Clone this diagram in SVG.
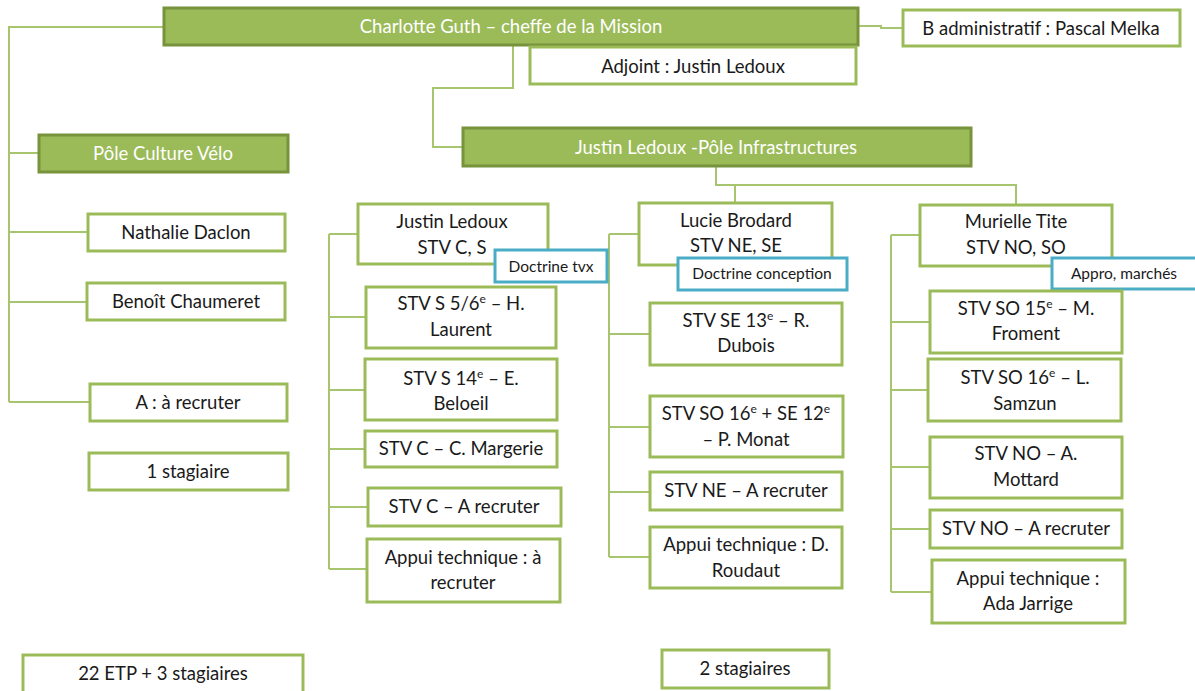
<svg xmlns="http://www.w3.org/2000/svg" width="1195" height="691" viewBox="0 0 1195 691">
<style>
.hd{fill:#9BBB59;stroke:#77933C;stroke-width:3}
.bx{fill:#FFFFFF;stroke:#9BBB59;stroke-width:3}
.bl{fill:#FFFFFF;stroke:#4BACC6;stroke-width:3}
.t{font-family:Lato,"Liberation Sans",sans-serif;font-size:18.5px;fill:#1a1a1a;text-anchor:middle}
.w{fill:#FFFFFF}
.s{font-size:15.5px}
.c{fill:none;stroke:#A7C46F;stroke-width:2}
</style>
<rect width="1195" height="691" fill="#FFFFFF"/>
<g id="connectors" class="c">
<path d="M164,27 H9 V402 M9,153 H39 M9,232 H88 M9,302 H87 M9,402 H90"/>
<path d="M858,26 H881 V28 H903"/>
<path d="M513,45 V88 H433 V147 H463"/>
<path d="M716,166 V185 H1016 V205 M735,185 V203"/>
<path d="M329,234 V569 M329,234 H358 M329,317 H366 M329,390 H365 M329,449 H365 M329,507 H368 M329,569 H367"/>
<path d="M609,234 V557 M609,234 H639 M609,334 H650 M609,427 H650 M609,492 H650 M609,557 H650"/>
<path d="M891,235 V592 M891,235 H920 M891,322 H930 M891,390 H928 M891,467 H930 M891,529 H930 M891,592 H932"/>
</g>
<g id="charlotte"><rect class="hd" x="164" y="8" width="694" height="37"/><text class="t w" x="511" y="33">Charlotte Guth – cheffe de la Mission</text></g>
<g id="badmin"><rect class="bx" x="903" y="10" width="277" height="36"/><text class="t" x="1041" y="35">B administratif : Pascal Melka</text></g>
<g id="adjoint"><rect class="bx" x="530" y="47" width="326" height="37"/><text class="t" x="693" y="73">Adjoint : Justin Ledoux</text></g>
<g id="pole-infra"><rect class="hd" x="463" y="128" width="508" height="38"/><text class="t w" x="716" y="154">Justin Ledoux -Pôle Infrastructures</text></g>
<g id="pole-culture"><rect class="hd" x="39" y="135" width="249" height="37"/><text class="t w" x="163" y="160">Pôle Culture Vélo</text></g>
<g id="nathalie"><rect class="bx" x="88" y="214" width="197" height="37"/><text class="t" x="186" y="239">Nathalie Daclon</text></g>
<g id="benoit"><rect class="bx" x="87" y="283" width="198" height="37"/><text class="t" x="186" y="308">Benoît Chaumeret</text></g>
<g id="a-recruter"><rect class="bx" x="90" y="384" width="197" height="37"/><text class="t" x="188" y="409">A : à recruter</text></g>
<g id="stagiaire1"><rect class="bx" x="89" y="453" width="199" height="37"/><text class="t" x="188" y="478">1 stagiaire</text></g>
<g id="etp"><rect class="bx" x="23" y="655" width="280" height="40"/><text class="t" x="163" y="680">22 ETP + 3 stagiaires</text></g>
<g id="jl-stv"><rect class="bx" x="358" y="204" width="190" height="60"/><text class="t" x="452" y="228">Justin Ledoux</text><text class="t" x="452" y="254">STV C, S</text></g>
<g id="doctrine-tvx"><rect class="bl" x="495" y="250" width="112" height="32"/><text class="t s" x="551" y="272">Doctrine tvx</text></g>
<g id="stv-s56"><rect class="bx" x="366" y="287" width="190" height="61"/><text class="t" x="461" y="310">STV S 5/6<tspan font-size="12" dy="-7">e</tspan><tspan dy="7"> – H.</tspan></text><text class="t" x="461" y="336">Laurent</text></g>
<g id="stv-s14"><rect class="bx" x="365" y="359" width="192" height="61"/><text class="t" x="461" y="385">STV S 14<tspan font-size="12" dy="-7">e</tspan><tspan dy="7"> – E.</tspan></text><text class="t" x="461" y="410">Beloeil</text></g>
<g id="margerie"><rect class="bx" x="365" y="431" width="192" height="36"/><text class="t" x="461" y="455">STV C – C. Margerie</text></g>
<g id="stvc-arecruter"><rect class="bx" x="368" y="488" width="193" height="38"/><text class="t" x="464" y="513">STV C – A recruter</text></g>
<g id="appui1"><rect class="bx" x="367" y="539" width="193" height="63"/><text class="t" x="463" y="564">Appui technique : à</text><text class="t" x="463" y="589">recruter</text></g>
<g id="lucie"><rect class="bx" x="639" y="203" width="193" height="62"/><text class="t" x="736" y="227">Lucie Brodard</text><text class="t" x="736" y="252">STV NE, SE</text></g>
<g id="doctrine-conception"><rect class="bl" x="678" y="258" width="169" height="32"/><text class="t s" x="762" y="279">Doctrine conception</text></g>
<g id="stv-se13"><rect class="bx" x="650" y="303" width="192" height="62"/><text class="t" x="746" y="327">STV SE 13<tspan font-size="12" dy="-7">e</tspan><tspan dy="7"> – R.</tspan></text><text class="t" x="746" y="352">Dubois</text></g>
<g id="stv-so16-se12"><rect class="bx" x="650" y="396" width="193" height="61"/><text class="t" x="746" y="420">STV SO 16<tspan font-size="12" dy="-7">e</tspan><tspan dy="7"> + SE 12</tspan><tspan font-size="12" dy="-7">e</tspan></text><text class="t" x="746" y="446">– P. Monat</text></g>
<g id="stv-ne"><rect class="bx" x="650" y="472" width="192" height="38"/><text class="t" x="746" y="497">STV NE – A recruter</text></g>
<g id="appui-roudaut"><rect class="bx" x="650" y="527" width="192" height="61"/><text class="t" x="746" y="551">Appui technique : D.</text><text class="t" x="746" y="577">Roudaut</text></g>
<g id="murielle"><rect class="bx" x="920" y="205" width="192" height="61"/><text class="t" x="1016" y="228">Murielle Tite</text><text class="t" x="1016" y="254">STV NO, SO</text></g>
<g id="appro"><rect class="bl" x="1052" y="258" width="160" height="31"/><text class="t s" x="1124" y="279">Appro, marchés</text></g>
<g id="stv-so15"><rect class="bx" x="930" y="291" width="192" height="62"/><text class="t" x="1026" y="315">STV SO 15<tspan font-size="12" dy="-7">e</tspan><tspan dy="7"> – M.</tspan></text><text class="t" x="1026" y="340">Froment</text></g>
<g id="stv-so16"><rect class="bx" x="928" y="359" width="193" height="62"/><text class="t" x="1025" y="384">STV SO 16<tspan font-size="12" dy="-7">e</tspan><tspan dy="7"> – L.</tspan></text><text class="t" x="1025" y="410">Samzun</text></g>
<g id="stv-no-mottard"><rect class="bx" x="930" y="437" width="192" height="61"/><text class="t" x="1026" y="460">STV NO – A.</text><text class="t" x="1026" y="486">Mottard</text></g>
<g id="stv-no-arec"><rect class="bx" x="930" y="510" width="192" height="38"/><text class="t" x="1026" y="535">STV NO – A recruter</text></g>
<g id="appui-jarrige"><rect class="bx" x="932" y="560" width="193" height="63"/><text class="t" x="1028" y="585">Appui technique :</text><text class="t" x="1028" y="610">Ada Jarrige</text></g>
<g id="stagiaires2"><rect class="bx" x="662" y="650" width="167" height="38"/><text class="t" x="745" y="675">2 stagiaires</text></g>
</svg>
